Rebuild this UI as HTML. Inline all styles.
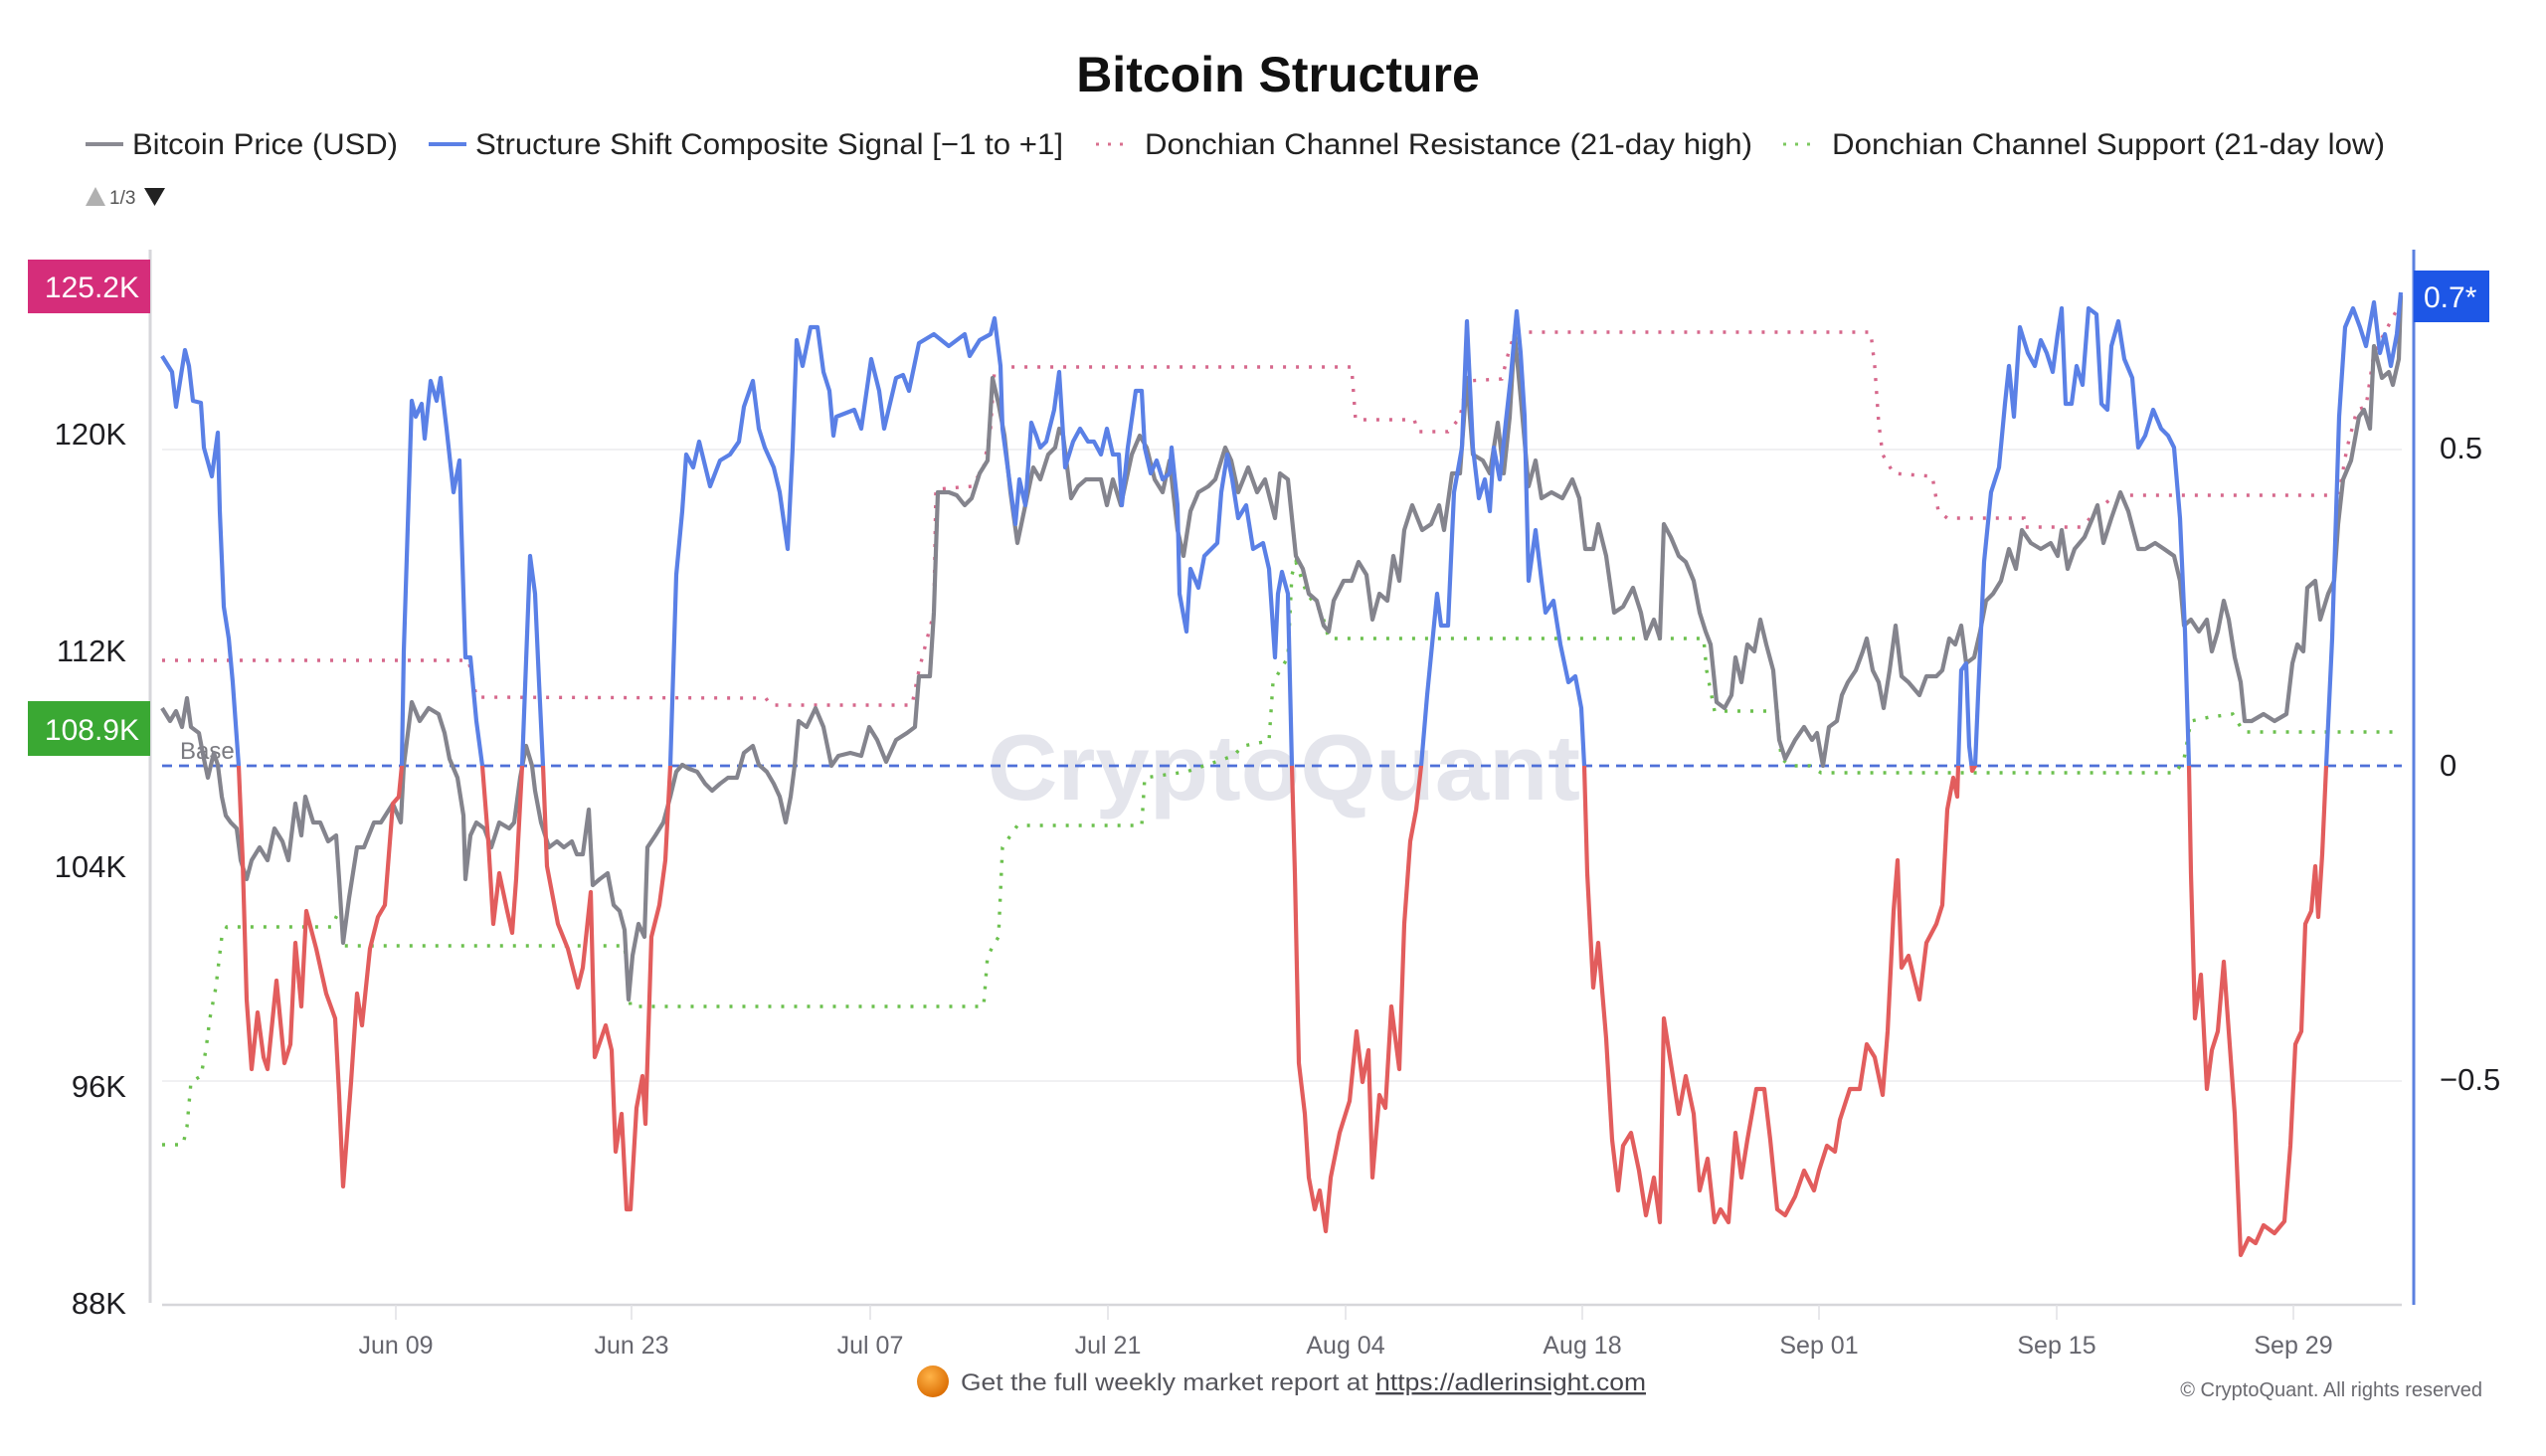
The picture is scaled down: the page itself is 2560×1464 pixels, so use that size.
<!DOCTYPE html>
<html>
<head>
<meta charset="utf-8">
<style>
  html,body{margin:0;padding:0;background:#ffffff;}
  body{width:2560px;height:1464px;overflow:hidden;}
  svg{display:block;}
  text{font-family:"Liberation Sans",Arial,sans-serif;}
</style>
</head>
<body>
<svg width="2560" height="1464" viewBox="0 0 2560 1464" xmlns="http://www.w3.org/2000/svg">
  <defs>
    <clipPath id="clipTop"><rect x="150" y="200" width="2280" height="570"/></clipPath>
    <clipPath id="clipBot"><rect x="150" y="770" width="2280" height="600"/></clipPath>
    <radialGradient id="coin" cx="40%" cy="35%" r="70%">
      <stop offset="0%" stop-color="#ffb347"/>
      <stop offset="100%" stop-color="#d96a00"/>
    </radialGradient>
  </defs>

  <rect x="0" y="0" width="2560" height="1464" fill="#ffffff"/>

  <!-- Title -->
  <text x="1285" y="92" text-anchor="middle" font-size="50" font-weight="bold" fill="#111">Bitcoin Structure</text>

  <!-- Legend -->
  <line x1="86" y1="145" x2="124" y2="145" stroke="#8a8a92" stroke-width="4"/>
  <text x="133" y="155" font-size="30" fill="#222" textLength="267" lengthAdjust="spacingAndGlyphs">Bitcoin Price (USD)</text>
  <line x1="431" y1="145" x2="469" y2="145" stroke="#5b80e6" stroke-width="4"/>
  <text x="478" y="155" font-size="30" fill="#222" textLength="591" lengthAdjust="spacingAndGlyphs">Structure Shift Composite Signal [−1 to +1]</text>
  <line x1="1102" y1="145" x2="1136" y2="145" stroke="#d9708f" stroke-width="3" stroke-dasharray="3,9"/>
  <text x="1151" y="155" font-size="30" fill="#222" textLength="611" lengthAdjust="spacingAndGlyphs">Donchian Channel Resistance (21-day high)</text>
  <line x1="1793" y1="145" x2="1825" y2="145" stroke="#7cc860" stroke-width="3" stroke-dasharray="3,9"/>
  <text x="1842" y="155" font-size="30" fill="#222" textLength="556" lengthAdjust="spacingAndGlyphs">Donchian Channel Support (21-day low)</text>

  <!-- pager -->
  <polygon points="86,207 96,188 106,207" fill="#b0b0b0"/>
  <text x="110" y="205" font-size="19" fill="#555">1/3</text>
  <polygon points="145,189 166,189 155.5,207" fill="#222"/>

  <!-- gridlines -->
  <line x1="163" y1="452" x2="2415" y2="452" stroke="#f0f0f2" stroke-width="2"/>
  <line x1="163" y1="1087" x2="2415" y2="1087" stroke="#f0f0f2" stroke-width="2"/>

  <!-- watermark -->
  <text x="993" y="804" font-size="94" font-weight="bold" fill="#e4e5ec" textLength="596" lengthAdjust="spacingAndGlyphs">CryptoQuant</text>

  <!-- base line -->
  <line x1="163" y1="770" x2="2415" y2="770" stroke="#4f70d8" stroke-width="2.8" stroke-dasharray="10,7"/>
  <text x="181" y="763" font-size="24" fill="#7a7a80">Base</text>

  <!-- Donchian support -->
  <polyline fill="none" stroke="#6cc04e" stroke-width="3.4" stroke-dasharray="3,10" points="163,1151 184,1151 188,1133 192,1088 202,1082 207,1056 211,1024 217,993 223,942 228,932 334,932 338,922 343,913 345,951 628,951 634,1012 989,1012 993,961 1004,942 1008,852 1012,846 1023,830 1148,830 1151,782 1193,776 1240,760 1250,750 1276,745 1280,686 1295,661 1299,578 1303,565 1314,597 1329,616 1336,642 1713,642 1716,674 1724,715 1787,715 1791,763 1801,770 1820,770 1831,777 2188,777 2196,763 2203,725 2222,721 2245,718 2253,731 2257,736 2410,736"/>

  <!-- Donchian resistance -->
  <polyline fill="none" stroke="#d6688c" stroke-width="3.4" stroke-dasharray="3,10" points="163,664 471,664 475,680 479,701 770,702 775,709 917,709 924,674 939,616 941,492 977,489 989,470 996,431 1000,371 1004,369 1359,369 1363,422 1422,422 1426,434 1456,434 1468,420 1475,383 1510,381 1518,350 1523,336 1525,334 1881,334 1885,368 1889,425 1893,457 1904,476 1943,479 1949,514 1958,521 2035,521 2035,530 2092,530 2096,527 2108,514 2123,501 2134,498 2345,498 2352,495 2360,450 2370,412 2379,409 2387,355 2414,304"/>

  <!-- Bitcoin price -->
  <polyline fill="none" stroke="#84848d" stroke-width="4.2" stroke-linejoin="round" points="163,712 171,725 177,715 183,731 188,702 192,731 200,737 205,763 209,782 215,757 219,769 223,801 227,820 232,827 238,833 242,865 248,884 253,865 261,852 269,865 276,833 284,846 290,865 297,808 303,840 307,801 315,827 322,827 330,846 338,840 341,884 345,948 351,903 359,852 366,852 376,827 383,827 395,808 403,827 406,770 414,706 422,725 431,712 441,718 447,737 452,763 460,782 466,820 468,884 473,840 479,827 487,833 494,852 502,827 512,833 517,827 523,782 529,750 535,770 538,795 544,827 552,852 560,846 567,852 575,846 580,859 586,859 592,814 596,890 603,884 611,878 617,910 623,916 628,935 632,1005 636,961 642,929 648,942 651,852 659,840 667,827 674,801 680,776 686,769 693,773 701,776 709,788 716,795 724,788 732,782 741,782 748,757 757,750 763,769 771,776 778,788 784,801 790,827 795,801 799,770 803,725 811,731 820,712 828,731 836,770 843,760 855,757 866,760 874,731 882,744 891,766 901,744 912,737 920,731 924,680 935,680 939,616 943,495 954,495 962,498 970,508 977,501 985,476 993,463 998,380 1004,406 1010,438 1016,495 1023,546 1031,508 1039,470 1046,482 1054,457 1061,450 1065,431 1069,438 1077,501 1084,489 1092,482 1100,482 1107,482 1113,508 1119,482 1127,508 1138,457 1146,438 1153,450 1161,482 1169,495 1176,463 1184,533 1190,559 1197,514 1205,495 1215,489 1222,482 1232,450 1238,463 1245,495 1255,470 1264,495 1272,482 1282,521 1287,476 1295,482 1303,559 1310,572 1316,597 1324,604 1331,629 1336,635 1341,604 1351,584 1359,584 1366,565 1374,578 1380,623 1387,597 1395,604 1401,559 1407,584 1412,533 1420,508 1430,533 1439,527 1447,508 1452,533 1460,476 1468,476 1475,380 1481,457 1491,463 1498,476 1506,425 1512,476 1518,419 1523,336 1529,399 1537,489 1544,463 1550,501 1560,495 1571,501 1581,482 1588,501 1594,552 1602,552 1607,527 1615,559 1623,616 1632,610 1642,591 1650,616 1655,642 1663,623 1669,642 1673,527 1680,540 1688,559 1695,565 1703,584 1709,616 1715,635 1720,648 1726,706 1734,712 1741,699 1745,661 1751,686 1757,648 1764,655 1770,623 1776,648 1783,674 1789,744 1795,763 1805,744 1814,731 1822,744 1827,737 1833,770 1839,731 1847,725 1852,699 1858,686 1866,674 1873,655 1877,642 1883,674 1889,686 1894,712 1900,674 1906,629 1912,680 1919,686 1930,699 1937,680 1947,680 1953,674 1960,642 1966,648 1972,629 1977,667 1985,661 1991,635 1997,604 2004,597 2012,584 2020,552 2027,572 2033,533 2042,546 2052,552 2062,546 2069,559 2073,533 2079,572 2086,552 2096,540 2104,521 2109,508 2115,546 2123,521 2132,495 2140,514 2150,552 2157,552 2167,546 2176,552 2186,559 2192,584 2196,629 2203,623 2211,635 2219,623 2224,655 2230,635 2236,604 2241,623 2247,661 2253,686 2257,725 2264,725 2276,718 2287,725 2299,718 2305,667 2310,648 2316,655 2320,591 2328,584 2333,623 2341,597 2347,584 2351,527 2356,482 2364,463 2372,419 2377,412 2383,431 2387,348 2395,380 2402,374 2406,387 2412,361 2414,297"/>

  <!-- Composite signal (blue above base, red below) -->
  <polyline clip-path="url(#clipTop)" fill="none" stroke="#5a80e6" stroke-width="4.2" stroke-linejoin="round" points="163,358 173,374 177,409 186,352 190,368 194,403 202,405 205,450 213,479 219,435 221,514 225,610 230,642 234,686 240,770 244,865 248,1005 253,1075 259,1018 265,1063 269,1075 278,986 286,1069 292,1050 297,948 303,1012 308,916 318,954 328,999 337,1024 341,1101 345,1193 353,1088 359,999 364,1031 372,954 380,922 387,910 395,808 401,801 404,770 406,655 414,403 418,419 424,406 427,441 433,383 439,403 443,380 449,431 456,495 462,463 464,533 468,661 473,661 479,725 485,770 491,846 496,929 502,878 510,916 515,938 519,884 525,770 533,559 538,597 542,686 546,770 550,871 561,929 571,954 581,993 586,973 594,897 598,1063 609,1031 615,1056 619,1158 625,1120 630,1216 634,1216 640,1114 646,1082 649,1130 655,942 663,910 669,865 674,770 680,578 686,514 690,457 697,470 703,444 714,489 724,463 734,457 743,444 748,409 757,383 763,431 769,450 778,470 784,495 792,552 797,450 801,342 807,368 815,329 822,329 828,374 834,393 838,438 841,419 859,412 866,431 876,361 884,393 889,431 901,380 908,377 914,393 924,345 939,336 954,348 970,336 975,358 985,342 996,336 1000,320 1006,368 1008,431 1014,476 1021,527 1025,482 1031,508 1037,425 1042,438 1046,450 1052,444 1060,412 1065,374 1071,470 1079,444 1086,431 1094,444 1100,444 1107,457 1113,431 1119,457 1125,457 1128,508 1134,450 1142,393 1148,393 1151,450 1157,476 1163,463 1169,482 1176,476 1178,450 1184,508 1186,597 1193,635 1197,572 1205,591 1211,559 1218,552 1224,546 1228,495 1234,457 1239,482 1245,521 1253,508 1260,552 1270,546 1276,572 1282,661 1285,597 1289,575 1295,597 1299,770 1302,878 1306,1069 1312,1120 1316,1184 1322,1216 1327,1197 1333,1238 1338,1184 1347,1139 1357,1107 1364,1037 1370,1088 1376,1056 1380,1184 1387,1101 1393,1114 1399,1012 1407,1075 1412,929 1418,846 1424,814 1429,770 1435,699 1445,597 1449,629 1456,629 1462,495 1470,450 1475,323 1481,450 1487,501 1493,482 1498,514 1502,450 1508,482 1514,425 1519,380 1525,313 1529,355 1533,419 1537,584 1544,533 1550,584 1554,616 1562,604 1569,648 1577,686 1584,680 1590,712 1593,770 1596,878 1602,993 1607,948 1615,1044 1621,1146 1627,1197 1632,1152 1640,1139 1648,1177 1655,1222 1663,1184 1669,1229 1673,1024 1680,1069 1688,1120 1695,1082 1703,1120 1709,1197 1717,1165 1724,1229 1730,1216 1738,1229 1745,1139 1751,1184 1757,1146 1766,1095 1774,1095 1780,1146 1787,1216 1795,1222 1805,1203 1814,1177 1824,1197 1829,1177 1837,1152 1845,1158 1850,1126 1860,1095 1870,1095 1877,1050 1885,1063 1893,1101 1898,1037 1904,916 1908,865 1912,973 1919,961 1930,1005 1937,948 1947,929 1953,910 1958,814 1964,782 1968,801 1969,770 1972,674 1977,667 1980,750 1983,775 1986,770 1989,699 1995,565 2002,495 2010,470 2016,406 2020,368 2025,419 2031,329 2039,355 2046,368 2052,342 2058,355 2064,374 2069,336 2073,310 2077,406 2083,406 2088,368 2094,387 2100,310 2108,316 2113,406 2119,412 2123,348 2130,323 2136,361 2144,380 2150,450 2157,438 2165,412 2173,431 2180,438 2186,450 2192,521 2197,635 2201,770 2203,878 2207,1024 2213,980 2219,1095 2224,1056 2230,1037 2236,967 2241,1037 2247,1120 2253,1262 2261,1245 2268,1250 2276,1232 2287,1240 2297,1228 2303,1152 2308,1050 2314,1037 2318,929 2324,916 2328,871 2331,922 2335,859 2339,770 2345,642 2352,419 2358,329 2366,310 2373,329 2379,348 2387,304 2393,355 2398,336 2404,368 2410,336 2414,294"/>
  <polyline clip-path="url(#clipBot)" fill="none" stroke="#e25d5d" stroke-width="4.2" stroke-linejoin="round" points="163,358 173,374 177,409 186,352 190,368 194,403 202,405 205,450 213,479 219,435 221,514 225,610 230,642 234,686 240,770 244,865 248,1005 253,1075 259,1018 265,1063 269,1075 278,986 286,1069 292,1050 297,948 303,1012 308,916 318,954 328,999 337,1024 341,1101 345,1193 353,1088 359,999 364,1031 372,954 380,922 387,910 395,808 401,801 404,770 406,655 414,403 418,419 424,406 427,441 433,383 439,403 443,380 449,431 456,495 462,463 464,533 468,661 473,661 479,725 485,770 491,846 496,929 502,878 510,916 515,938 519,884 525,770 533,559 538,597 542,686 546,770 550,871 561,929 571,954 581,993 586,973 594,897 598,1063 609,1031 615,1056 619,1158 625,1120 630,1216 634,1216 640,1114 646,1082 649,1130 655,942 663,910 669,865 674,770 680,578 686,514 690,457 697,470 703,444 714,489 724,463 734,457 743,444 748,409 757,383 763,431 769,450 778,470 784,495 792,552 797,450 801,342 807,368 815,329 822,329 828,374 834,393 838,438 841,419 859,412 866,431 876,361 884,393 889,431 901,380 908,377 914,393 924,345 939,336 954,348 970,336 975,358 985,342 996,336 1000,320 1006,368 1008,431 1014,476 1021,527 1025,482 1031,508 1037,425 1042,438 1046,450 1052,444 1060,412 1065,374 1071,470 1079,444 1086,431 1094,444 1100,444 1107,457 1113,431 1119,457 1125,457 1128,508 1134,450 1142,393 1148,393 1151,450 1157,476 1163,463 1169,482 1176,476 1178,450 1184,508 1186,597 1193,635 1197,572 1205,591 1211,559 1218,552 1224,546 1228,495 1234,457 1239,482 1245,521 1253,508 1260,552 1270,546 1276,572 1282,661 1285,597 1289,575 1295,597 1299,770 1302,878 1306,1069 1312,1120 1316,1184 1322,1216 1327,1197 1333,1238 1338,1184 1347,1139 1357,1107 1364,1037 1370,1088 1376,1056 1380,1184 1387,1101 1393,1114 1399,1012 1407,1075 1412,929 1418,846 1424,814 1429,770 1435,699 1445,597 1449,629 1456,629 1462,495 1470,450 1475,323 1481,450 1487,501 1493,482 1498,514 1502,450 1508,482 1514,425 1519,380 1525,313 1529,355 1533,419 1537,584 1544,533 1550,584 1554,616 1562,604 1569,648 1577,686 1584,680 1590,712 1593,770 1596,878 1602,993 1607,948 1615,1044 1621,1146 1627,1197 1632,1152 1640,1139 1648,1177 1655,1222 1663,1184 1669,1229 1673,1024 1680,1069 1688,1120 1695,1082 1703,1120 1709,1197 1717,1165 1724,1229 1730,1216 1738,1229 1745,1139 1751,1184 1757,1146 1766,1095 1774,1095 1780,1146 1787,1216 1795,1222 1805,1203 1814,1177 1824,1197 1829,1177 1837,1152 1845,1158 1850,1126 1860,1095 1870,1095 1877,1050 1885,1063 1893,1101 1898,1037 1904,916 1908,865 1912,973 1919,961 1930,1005 1937,948 1947,929 1953,910 1958,814 1964,782 1968,801 1969,770 1972,674 1977,667 1980,750 1983,775 1986,770 1989,699 1995,565 2002,495 2010,470 2016,406 2020,368 2025,419 2031,329 2039,355 2046,368 2052,342 2058,355 2064,374 2069,336 2073,310 2077,406 2083,406 2088,368 2094,387 2100,310 2108,316 2113,406 2119,412 2123,348 2130,323 2136,361 2144,380 2150,450 2157,438 2165,412 2173,431 2180,438 2186,450 2192,521 2197,635 2201,770 2203,878 2207,1024 2213,980 2219,1095 2224,1056 2230,1037 2236,967 2241,1037 2247,1120 2253,1262 2261,1245 2268,1250 2276,1232 2287,1240 2297,1228 2303,1152 2308,1050 2314,1037 2318,929 2324,916 2328,871 2331,922 2335,859 2339,770 2345,642 2352,419 2358,329 2366,310 2373,329 2379,348 2387,304 2393,355 2398,336 2404,368 2410,336 2414,294"/>

  <!-- Axes -->
  <line x1="151" y1="251" x2="151" y2="1310" stroke="#d6d6da" stroke-width="3"/>
  <line x1="163" y1="1312" x2="2415" y2="1312" stroke="#d6d6da" stroke-width="2.5"/>
  <line x1="2427" y1="251" x2="2427" y2="1312" stroke="#5b80e0" stroke-width="3"/>

  <!-- x ticks -->
  <g stroke="#e0e0e4" stroke-width="1.5">
    <line x1="398" y1="1312" x2="398" y2="1327"/>
    <line x1="635" y1="1312" x2="635" y2="1327"/>
    <line x1="875" y1="1312" x2="875" y2="1327"/>
    <line x1="1114" y1="1312" x2="1114" y2="1327"/>
    <line x1="1353" y1="1312" x2="1353" y2="1327"/>
    <line x1="1591" y1="1312" x2="1591" y2="1327"/>
    <line x1="1829" y1="1312" x2="1829" y2="1327"/>
    <line x1="2068" y1="1312" x2="2068" y2="1327"/>
    <line x1="2306" y1="1312" x2="2306" y2="1327"/>
  </g>
  <g font-size="25" fill="#66666e" text-anchor="middle">
    <text x="398" y="1361">Jun 09</text>
    <text x="635" y="1361">Jun 23</text>
    <text x="875" y="1361">Jul 07</text>
    <text x="1114" y="1361">Jul 21</text>
    <text x="1353" y="1361">Aug 04</text>
    <text x="1591" y="1361">Aug 18</text>
    <text x="1829" y="1361">Sep 01</text>
    <text x="2068" y="1361">Sep 15</text>
    <text x="2306" y="1361">Sep 29</text>
  </g>

  <!-- left axis labels -->
  <g font-size="31" fill="#1e1e22" text-anchor="end">
    <text x="127" y="447">120K</text>
    <text x="127" y="665">112K</text>
    <text x="127" y="882">104K</text>
    <text x="127" y="1103">96K</text>
    <text x="127" y="1321">88K</text>
  </g>
  <rect x="28" y="261" width="123" height="54" fill="#d52d7a"/>
  <text x="140" y="299" font-size="30" fill="#ffffff" text-anchor="end">125.2K</text>
  <rect x="28" y="705" width="123" height="55" fill="#3aa833"/>
  <text x="140" y="744" font-size="30" fill="#ffffff" text-anchor="end">108.9K</text>

  <!-- right axis labels -->
  <g font-size="31" fill="#1e1e22">
    <text x="2453" y="461">0.5</text>
    <text x="2453" y="780">0</text>
    <text x="2453" y="1096">−0.5</text>
  </g>
  <rect x="2427" y="272" width="76" height="52" fill="#1d56e6"/>
  <text x="2437" y="309" font-size="30" fill="#ffffff">0.7*</text>

  <!-- footer -->
  <circle cx="938" cy="1389" r="16" fill="url(#coin)"/>
  <text x="966" y="1398" font-size="24" fill="#55555c" textLength="689" lengthAdjust="spacingAndGlyphs">Get the full weekly market report at <tspan fill="#45454c" text-decoration="underline">https://adlerinsight.com</tspan></text>
  <text x="2496" y="1404" font-size="20" fill="#6a6a70" text-anchor="end">© CryptoQuant. All rights reserved</text>
</svg>
</body>
</html>
